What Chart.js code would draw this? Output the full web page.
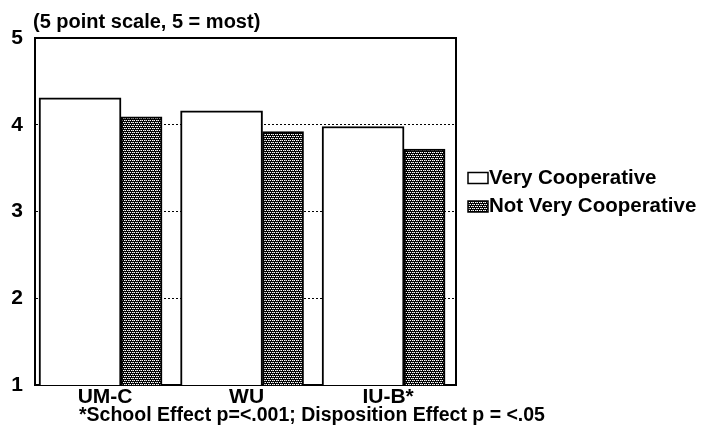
<!DOCTYPE html>
<html><head><meta charset="utf-8">
<script src="https://cdn.jsdelivr.net/npm/chart.js@4/dist/chart.umd.min.js"></script>
<style>html,body{margin:0;padding:0;background:#fff}</style>
</head><body>
<canvas id="c" width="703" height="434"></canvas>
<script>
const categories = ['UM-C', 'WU', 'IU-B*'];
const seriesNames = ['Very Cooperative', 'Not Very Cooperative'];
const veryCooperative = [4.31, 4.16, 3.98];
const notVeryCooperative = [4.09, 3.92, 3.72];
const yTickValues = [1, 2, 3, 4, 5];
const titleText = '(5 point scale, 5 = most)';
const footnoteText = '*School Effect p=<.001; Disposition Effect p = <.05';

const FONT = '"Liberation Sans", Arial, sans-serif';
const canvas = document.getElementById('c');

function makeHatch() {
  const t = document.createElement('canvas');
  t.width = 4; t.height = 4;
  const g = t.getContext('2d');
  g.fillStyle = '#000'; g.fillRect(0, 0, 4, 4);
  g.fillStyle = '#fff';
  g.fillRect(0, 0, 1, 1); g.fillRect(2, 0, 1, 1);
  g.fillRect(1, 2, 1, 1); g.fillRect(3, 2, 1, 1);
  g.fillStyle = '#888';
  g.fillRect(1, 0, 1, 1); g.fillRect(0, 2, 1, 1);
  return canvas.getContext('2d').createPattern(t, 'repeat');
}
const hatch = makeHatch();

const decor = {
  id: 'decor',
  beforeDraw(chart) {
    const ctx = chart.ctx;
    ctx.save(); ctx.fillStyle = '#fff'; ctx.fillRect(0, 0, chart.width, chart.height); ctx.restore();
  },
  beforeDatasetsDraw(chart) {
    const ctx = chart.ctx, a = chart.chartArea;
    ctx.save();
    ctx.strokeStyle = '#000'; ctx.lineWidth = 2;
    ctx.strokeRect(a.left, a.top, a.right - a.left, a.bottom - a.top);
    ctx.restore();
  },
  afterDraw(chart) {
    const ctx = chart.ctx, a = chart.chartArea;
    ctx.save();
    ctx.fillStyle = '#000';
    ctx.textBaseline = 'middle';
    ctx.textAlign = 'left';
    ctx.font = 'bold 20px ' + FONT;
    ctx.fillText(titleText, 33, 22);
    ctx.font = 'bold 19.5px ' + FONT;
    ctx.fillText(footnoteText, 79, 416);
    // legend
    ctx.font = 'bold 20.5px ' + FONT;
    const lx = a.right + 12;
    chart.data.datasets.forEach((ds, i) => {
      const y = 178 + i * 28.5;
      ctx.fillStyle = ds.backgroundColor;
      ctx.fillRect(lx, y - 5.5, 20, 11);
      ctx.strokeStyle = '#000'; ctx.lineWidth = 1.5;
      ctx.strokeRect(lx, y - 5.5, 20, 11);
      ctx.fillStyle = '#000';
      ctx.fillText(ds.label, lx + 21, y);
    });
    ctx.restore();
  }
};

new Chart(canvas, {
  type: 'bar',
  data: {
    datasets: [
      { label: seriesNames[0], data: veryCooperative.map((v, i) => ({ x: i, y: v })),
        backgroundColor: '#fff', borderColor: '#000', borderWidth: 2, barThickness: 82 },
      { label: seriesNames[1], data: notVeryCooperative.map((v, i) => ({ x: i, y: v })),
        backgroundColor: hatch, borderColor: '#000', borderWidth: 2, barThickness: 41 }
    ]
  },
  options: {
    responsive: false,
    animation: false,
    events: [],
    layout: { padding: { top: 38, left: 0, right: 247, bottom: 0 } },
    plugins: { legend: { display: false }, tooltip: { enabled: false } },
    scales: {
      x: {
        type: 'linear', offset: false,
        min: -0.608, max: 2.367,
        grid: { display: false, drawTicks: false },
        border: { display: true, color: '#000', width: 2 },
        afterFit: s => { s.height = 49; },
        ticks: {
          includeBounds: false, stepSize: 1, padding: 0, labelOffset: -16,
          maxRotation: 0, autoSkip: false,
          color: '#000', font: { family: FONT, size: 21, weight: 'bold' },
          callback: v => (Number.isInteger(v) && categories[v] !== undefined) ? categories[v] : ''
        }
      },
      y: {
        min: yTickValues[0], max: yTickValues[yTickValues.length - 1],
        afterFit: s => { s.width = 35; },
        afterBuildTicks: s => { s.ticks = yTickValues.map(v => ({ value: v })); },
        grid: {
          drawTicks: false,
          color: c => (c.tick && c.tick.value > 1 && c.tick.value < 5) ? '#000' : 'rgba(0,0,0,0)',
          lineWidth: 1
        },
        border: { display: true, color: '#000', width: 2, dash: [2, 2] },
        ticks: {
          padding: 12, color: '#000',
          font: { family: FONT, size: 21, weight: 'bold' }
        }
      }
    }
  },
  plugins: [decor]
});
</script>
</body></html>
